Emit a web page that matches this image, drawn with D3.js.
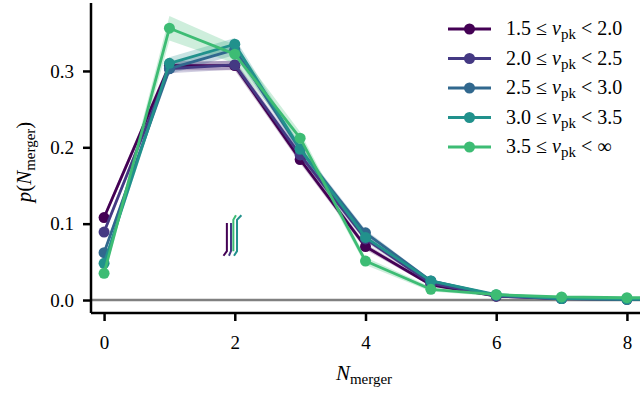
<!DOCTYPE html>
<html>
<head>
<meta charset="utf-8">
<script src="https://cdn.jsdelivr.net/npm/d3@7"></script>
<style>
  body { margin: 0; background: #fff; }
</style>
</head>
<body>
<div id="chart"></div>
<script>
// N_merger bins (the last one lies just past the right edge and is clipped)
const nMerger = [0, 1, 2, 3, 4, 5, 6, 7, 8, 9];

// p(N_merger) for each nu_pk bin
const p15 = [0.108, 0.307, 0.307, 0.184, 0.070, 0.020, 0.005, 0.002, 0.001, 0.001];
const p20 = [0.089, 0.303, 0.308, 0.190, 0.080, 0.022, 0.005, 0.002, 0.001, 0.001];
const p25 = [0.062, 0.303, 0.328, 0.197, 0.088, 0.025, 0.006, 0.002, 0.002, 0.001];
const p30 = [0.048, 0.310, 0.335, 0.198, 0.082, 0.025, 0.007, 0.002, 0.001, 0.001];
const p35 = [0.035, 0.356, 0.322, 0.212, 0.051, 0.014, 0.007, 0.004, 0.003, 0.003];

// half-width of the shaded bands
const e15 = [0.004, 0.006, 0.006, 0.005, 0.004, 0.002, 0.001, 0.001, 0.001, 0.001];
const e20 = [0.004, 0.006, 0.006, 0.005, 0.004, 0.002, 0.001, 0.001, 0.001, 0.001];
const e25 = [0.004, 0.007, 0.007, 0.005, 0.004, 0.002, 0.001, 0.001, 0.001, 0.001];
const e30 = [0.004, 0.008, 0.008, 0.006, 0.004, 0.002, 0.001, 0.001, 0.001, 0.001];
const e35 = [0.004, 0.016, 0.012, 0.008, 0.005, 0.003, 0.002, 0.001, 0.001, 0.001];

const binLo = ['1.5', '2.0', '2.5', '3.0', '3.5'];
const binHi = ['2.0', '2.5', '3.0', '3.5', '\u221E'];
const colors = ['#440154', '#443983', '#31688e', '#21918c', '#3dbc74'];

const xTicks = [0, 2, 4, 6, 8];
const yTicks = [0.0, 0.1, 0.2, 0.3];

// small stray strokes near N = 2 (data units)
const strokes = [
  { c: 0, pts: [[1.879, 0.101], [1.879, 0.064], [1.827, 0.058]] },
  { c: 1, pts: [[1.942, 0.101], [1.942, 0.064], [1.911, 0.058]] },
  { c: 4, pts: [[1.978, 0.064], [1.978, 0.105], [2.018, 0.111]] },
  { c: 3, pts: [[1.988, 0.058], [2.034, 0.064], [2.034, 0.105], [2.101, 0.111]] }
];

const FONT = "'Liberation Serif', 'Times New Roman', Times, 'DejaVu Serif', serif";

const series = [p15, p20, p25, p30, p35].map((vals, i) => ({
  color: colors[i],
  lo: binLo[i],
  hi: binHi[i],
  pts: nMerger.map((n, j) => ({ n, v: vals[j], e: [e15, e20, e25, e30, e35][i][j] }))
}));

const width = 640, height = 393;
const margin = { top: 3, right: 0, bottom: 80, left: 91 };
const innerW = width - margin.left - margin.right;
const innerH = height - margin.top - margin.bottom;

const svg = d3.select('#chart').append('svg')
  .attr('width', width)
  .attr('height', height)
  .attr('font-family', FONT);

const x = d3.scaleLinear().domain([-0.2, 8.2]).range([0, innerW]);
const y = d3.scaleLinear().domain([-0.017, 0.389]).range([innerH, 0]);

svg.append('defs').append('clipPath').attr('id', 'clip')
  .append('rect').attr('width', innerW).attr('height', innerH);

const g = svg.append('g').attr('transform', `translate(${margin.left},${margin.top})`);
const plot = g.append('g').attr('clip-path', 'url(#clip)');

// zero line
plot.append('line')
  .attr('x1', 0).attr('x2', innerW)
  .attr('y1', y(0)).attr('y2', y(0))
  .attr('stroke', '#808080').attr('stroke-width', 2.5);

const area = d3.area()
  .x(d => x(d.n))
  .y0(d => y(d.v - d.e))
  .y1(d => y(d.v + d.e));
const line = d3.line().x(d => x(d.n)).y(d => y(d.v));

// bands
series.forEach(s => {
  plot.append('path')
    .datum(s.pts)
    .attr('d', area)
    .attr('fill', s.color)
    .attr('fill-opacity', 0.25);
});

// lines + markers
series.forEach(s => {
  plot.append('path')
    .datum(s.pts)
    .attr('d', line)
    .attr('fill', 'none')
    .attr('stroke', s.color)
    .attr('stroke-width', 2.8)
    .attr('stroke-linejoin', 'round');
  plot.selectAll(null)
    .data(s.pts)
    .enter()
    .append('circle')
    .attr('cx', d => x(d.n))
    .attr('cy', d => y(d.v))
    .attr('r', 5.5)
    .attr('fill', s.color);
});

// stray strokes
const strokeLine = d3.line().x(d => x(d[0])).y(d => y(d[1]));
strokes.forEach(s => {
  plot.append('path')
    .attr('d', strokeLine(s.pts))
    .attr('fill', 'none')
    .attr('stroke', colors[s.c])
    .attr('stroke-width', 2);
});

// axes
const xAxis = g.append('g')
  .attr('transform', `translate(0,${innerH})`)
  .call(d3.axisBottom(x).tickValues(xTicks).tickFormat(d3.format('d')).tickSize(8).tickPadding(15));
const yAxis = g.append('g')
  .call(d3.axisLeft(y).tickValues(yTicks).tickFormat(d3.format('.1f')).tickSize(8).tickPadding(9));

[xAxis, yAxis].forEach(ax => {
  ax.attr('font-family', FONT).attr('font-size', 19);
  ax.select('.domain').attr('stroke', '#000').attr('stroke-width', 2.5);
  ax.selectAll('.tick line').attr('stroke', '#000').attr('stroke-width', 2.5);
  ax.selectAll('.tick text').attr('fill', '#000');
});
xAxis.select('.domain').attr('d', `M0,0H${innerW}`);
yAxis.select('.domain').attr('d', `M0,0V${innerH}`);

// axis labels
const xl = svg.append('text')
  .attr('x', 364).attr('y', 380)
  .attr('text-anchor', 'middle')
  .attr('font-size', 21);
xl.append('tspan').attr('font-style', 'italic').text('N');
xl.append('tspan').attr('font-size', 15).attr('dy', 4).text('merger');

const yl = svg.append('text')
  .attr('transform', 'translate(31,162) rotate(-90)')
  .attr('text-anchor', 'middle')
  .attr('font-size', 21);
yl.append('tspan').attr('font-style', 'italic').text('p');
yl.append('tspan').text('(');
yl.append('tspan').attr('font-style', 'italic').text('N');
yl.append('tspan').attr('font-size', 15).attr('dy', 4).text('merger');
yl.append('tspan').attr('dy', -4).text(')');

// legend
const legend = svg.append('g').attr('transform', 'translate(448,29)');
series.forEach((s, i) => {
  const row = legend.append('g').attr('transform', `translate(0,${i * 29.5})`);
  row.append('line').attr('x1', 0).attr('x2', 43).attr('y1', 0).attr('y2', 0)
    .attr('stroke', s.color).attr('stroke-width', 2.8);
  row.append('circle').attr('cx', 21.5).attr('cy', 0).attr('r', 5.5).attr('fill', s.color);
  const t = row.append('text').attr('x', 58).attr('y', 6).attr('font-size', 20);
  t.append('tspan').text(`${s.lo} \u2264 `);
  t.append('tspan').attr('font-style', 'italic').text('\u03BD');
  t.append('tspan').attr('font-size', 15).attr('dy', 4).text('pk');
  t.append('tspan').attr('dy', -4).text(` < ${s.hi}`);
});
</script>
</body>
</html>
